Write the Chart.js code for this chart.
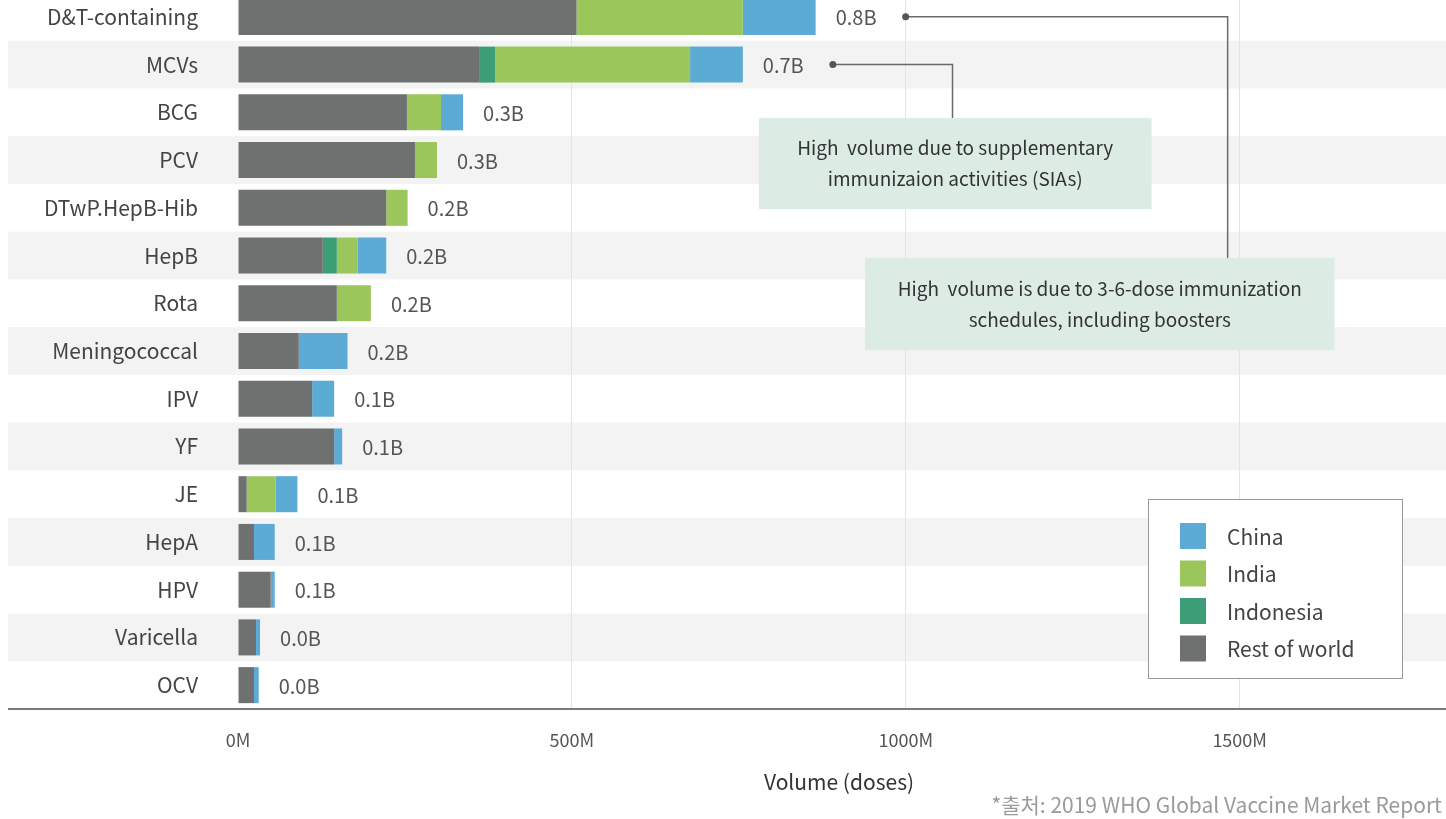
<!DOCTYPE html>
<html>
<head>
<meta charset="utf-8">
<title>Vaccine volume by type</title>
<script src="https://cdn.jsdelivr.net/npm/chart.js@4.4.1/dist/chart.umd.min.js"></script>
<style>
  html, body { margin: 0; padding: 0; background: #fff; overflow: hidden; width: 1446px; height: 819px; }
  #wrap { position: absolute; left: 0; top: -7px; width: 1446px; height: 826px; }
  #source { position: absolute; right: 4px; top: 789px; font: 21px "Noto Sans CJK KR", "Noto Sans", sans-serif; color: #9a9a9a; line-height: 30px; }
</style>
</head>
<body>
<div id="wrap"><canvas id="chart"></canvas></div>
<div id="source">*출처: 2019 WHO Global Vaccine Market Report</div>
<script>
// Data (million doses)
const vaccines = ['D&T-containing', 'MCVs', 'BCG', 'PCV', 'DTwP.HepB-Hib', 'HepB', 'Rota',
  'Meningococcal', 'IPV', 'YF', 'JE', 'HepA', 'HPV', 'Varicella', 'OCV'];
const restOfWorld = [507, 361, 253, 265, 222, 127, 148, 91, 111, 144, 13, 24, 49, 27, 24];
const indonesia   = [0, 24, 0, 0, 0, 21, 0, 0, 0, 0, 0, 0, 0, 0, 0];
const india       = [249, 292, 51, 33, 32, 31, 51, 0, 0, 0, 43, 0, 0, 0, 0];
const china       = [109, 79, 33, 0, 0, 43, 0, 73, 33, 12, 33, 31, 6, 6, 7];
const totalLabels = ['0.8B', '0.7B', '0.3B', '0.3B', '0.2B', '0.2B', '0.2B', '0.2B',
  '0.1B', '0.1B', '0.1B', '0.1B', '0.1B', '0.0B', '0.0B'];
const xTickValues = [0, 500, 1000, 1500];

const FONT = '"Noto Sans CJK KR", "Noto Sans", sans-serif';
const SHIFT = 7; // canvas sits 7px above the page top

// callouts, placed in data units (x in M doses, y in row index)
const notes = [
  { row: 1, elbowX: 1070, box: [780, 1368, 2.12, 4.03],
    text: ['High  volume due to supplementary', 'immunizaion activities (SIAs)'] },
  { row: 0, elbowX: 1482, box: [939, 1642, 5.05, 6.98],
    text: ['High  volume is due to 3-6-dose immunization', 'schedules, including boosters'] }
];

Chart.defaults.font.family = FONT;

function stackEnd(chart, i) {
  let end = chart.scales.x.getPixelForValue(0);
  chart.data.datasets.forEach((ds, d) => {
    const el = chart.getDatasetMeta(d).data[i];
    if (el && ds.data[i] > 0) end = Math.max(end, el.x);
  });
  return end;
}

const bandsPlugin = {
  id: 'bands',
  beforeDraw(chart) {
    const { ctx, scales: { y } } = chart;
    const half = (y.getPixelForValue(1) - y.getPixelForValue(0)) / 2;
    ctx.save();
    ctx.fillStyle = '#f3f3f3';
    vaccines.forEach((v, i) => {
      if (i % 2 === 1) {
        const c = y.getPixelForValue(i);
        ctx.fillRect(8, c - half, chart.width - 8, half * 2);
      }
    });
    ctx.restore();
  }
};

const extrasPlugin = {
  id: 'extras',
  afterDatasetsDraw(chart) {
    const { ctx, scales: { y } } = chart;
    ctx.save();
    ctx.font = '20px ' + FONT;
    ctx.fillStyle = '#555';
    ctx.textAlign = 'left';
    ctx.textBaseline = 'middle';
    vaccines.forEach((v, i) => {
      ctx.fillText(totalLabels[i], stackEnd(chart, i) + 20, y.getPixelForValue(i) + 1);
    });
    ctx.restore();
  },
  afterDraw(chart) {
    const { ctx, chartArea, scales: { x, y } } = chart;
    ctx.save();
    // axis line
    ctx.strokeStyle = '#7a7a7a';
    ctx.lineWidth = 2;
    ctx.beginPath();
    ctx.moveTo(8, chartArea.bottom);
    ctx.lineTo(chart.width, chartArea.bottom);
    ctx.stroke();

    // callouts
    notes.forEach(n => {
      const sx = stackEnd(chart, n.row) + 90;
      const sy = y.getPixelForValue(n.row);
      const ex = x.getPixelForValue(n.elbowX);
      const bx0 = x.getPixelForValue(n.box[0]);
      const bx1 = x.getPixelForValue(n.box[1]);
      const by0 = y.getPixelForValue(n.box[2]);
      const by1 = y.getPixelForValue(n.box[3]);
      ctx.strokeStyle = '#6a6a6a';
      ctx.lineWidth = 1.5;
      ctx.beginPath();
      ctx.moveTo(sx, sy);
      ctx.lineTo(ex, sy);
      ctx.lineTo(ex, by0);
      ctx.stroke();
      ctx.fillStyle = '#555';
      ctx.beginPath();
      ctx.arc(sx, sy, 3.5, 0, Math.PI * 2);
      ctx.fill();
      ctx.fillStyle = '#dcece4';
      ctx.fillRect(bx0, by0, bx1 - bx0, by1 - by0);
      ctx.fillStyle = '#333';
      ctx.font = '19px ' + FONT;
      ctx.textAlign = 'center';
      ctx.textBaseline = 'middle';
      const cx = (bx0 + bx1) / 2, cy = (by0 + by1) / 2;
      ctx.fillText(n.text[0], cx, cy - 15.5);
      ctx.fillText(n.text[1], cx, cy + 15.5);
    });

    // legend
    const lx = 1148, ly = 499 + SHIFT, lw = 254, lh = 179;
    ctx.fillStyle = '#fff';
    ctx.fillRect(lx, ly, lw, lh);
    ctx.strokeStyle = '#999';
    ctx.lineWidth = 1;
    ctx.strokeRect(lx + 0.5, ly + 0.5, lw, lh);
    ctx.font = '21px ' + FONT;
    ctx.textAlign = 'left';
    ctx.textBaseline = 'middle';
    const items = chart.data.datasets.slice().reverse();
    items.forEach((ds, k) => {
      const cy = 536 + SHIFT + k * 37.5;
      ctx.fillStyle = ds.backgroundColor;
      ctx.fillRect(1180, cy - 13, 26, 26);
      ctx.fillStyle = '#444';
      ctx.fillText(ds.label, 1227, cy + 1);
    });
    ctx.restore();
  }
};

new Chart(document.getElementById('chart'), {
  type: 'bar',
  data: {
    labels: vaccines,
    datasets: [
      { label: 'Rest of world', data: restOfWorld, backgroundColor: '#6f7070' },
      { label: 'Indonesia', data: indonesia, backgroundColor: '#3d9d77' },
      { label: 'India', data: india, backgroundColor: '#9ac65c' },
      { label: 'China', data: china, backgroundColor: '#5babd5' }
    ]
  },
  options: {
    indexAxis: 'y',
    responsive: true,
    maintainAspectRatio: false,
    animation: false,
    events: [],
    layout: { padding: { left: 0, right: 6, top: 0, bottom: 0 } },
    datasets: { bar: { categoryPercentage: 1, barPercentage: 0.755, borderWidth: 0 } },
    plugins: { legend: { display: false }, tooltip: { enabled: false } },
    scales: {
      x: {
        stacked: true,
        min: 0,
        max: 1800,
        afterBuildTicks: s => { s.ticks = xTickValues.map(v => ({ value: v })); },
        afterFit: s => { s.height = 110; s.paddingLeft = 0; s.paddingRight = 0; },
        border: { display: false },
        grid: {
          drawTicks: false,
          color: c => (c.tick && c.tick.value > 0 && c.tick.value < 1800) ? '#e4e4e4' : 'transparent'
        },
        ticks: {
          padding: 20,
          maxRotation: 0,
          color: '#555',
          font: { size: 18 },
          callback: v => v + 'M'
        },
        title: {
          display: true,
          text: 'Volume (doses)',
          color: '#333',
          font: { size: 21 },
          padding: { top: 0, bottom: 24 }
        }
      },
      y: {
        stacked: true,
        afterFit: s => { s.width = 238; s.paddingTop = 0; s.paddingBottom = 0; },
        border: { display: false },
        grid: { display: false, drawTicks: false },
        ticks: { padding: 40, color: '#444', font: { size: 21 } }
      }
    }
  },
  plugins: [bandsPlugin, extrasPlugin]
});
</script>
</body>
</html>
